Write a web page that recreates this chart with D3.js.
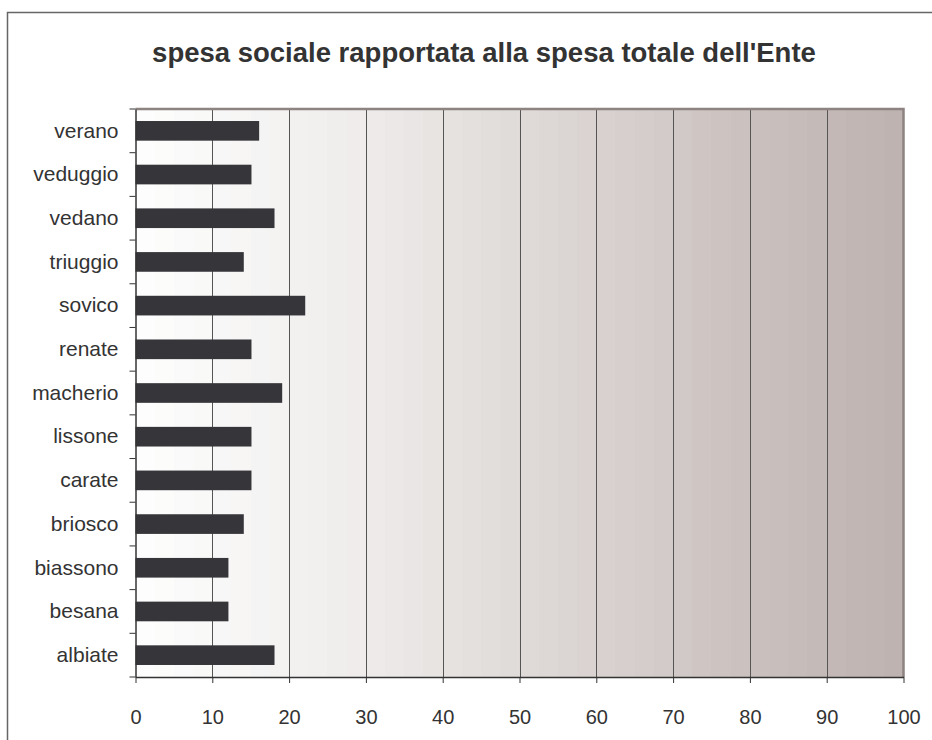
<!DOCTYPE html>
<html><head><meta charset="utf-8">
<script src="https://cdn.jsdelivr.net/npm/d3@7"></script>
<style>html,body{margin:0;padding:0;background:#fff;overflow:hidden}</style>
</head><body>
<script>
const title = "spesa sociale rapportata alla spesa totale dell'Ente";
const categories = ["verano","veduggio","vedano","triuggio","sovico","renate","macherio","lissone","carate","briosco","biassono","besana","albiate"];
const values = [16.1,15.1,18.1,14.1,22.1,15.1,19.1,15.1,15.1,14.1,12.1,12.1,18.1];
const xTicks = [0,10,20,30,40,50,60,70,80,90,100];

const W = 932, H = 740;
const m = {left:135.5, right:903.5, top:109, bottom:677};
const svg = d3.select("body").append("svg").attr("width",W).attr("height",H);
const font = "Liberation Sans, Arial, sans-serif";

// outer border
svg.append("rect").attr("x",7.5).attr("y",12.5).attr("width",960).attr("height",800)
  .attr("fill","#fff").attr("stroke","#666").attr("stroke-width",1.5);

svg.append("text").attr("x",484).attr("y",62).attr("text-anchor","middle")
  .attr("font-family",font).attr("font-weight","bold")
  .attr("font-size",27.5).attr("fill","#333").text(title);

const x = d3.scaleLinear().domain([0,100]).range([m.left,m.right]);
const y = d3.scaleBand().domain(categories).range([m.top,m.bottom]).paddingInner(0.55).paddingOuter(0.275);

// banded gradient
const defs = svg.append("defs");
const grad = defs.append("linearGradient").attr("id","bg").attr("x1","0").attr("x2","1").attr("y1","0").attr("y2","0");
const cInt = d3.interpolateRgbBasis(["#fdfdfd","#f6f5f4","#efedec","#e4e0de","#dbd5d3","#d2c9c7","#c6bcba","#bfb3b1"]);
const nb = 40;
for (let i=0;i<nb;i++){
  const c = cInt(i/(nb-1));
  grad.append("stop").attr("offset",(i/nb)).attr("stop-color",c);
  grad.append("stop").attr("offset",((i+1)/nb)).attr("stop-color",c);
}
svg.append("rect").attr("x",m.left).attr("y",m.top).attr("width",m.right-m.left).attr("height",m.bottom-m.top)
  .attr("fill","url(#bg)");

// gridlines
svg.append("g").selectAll("line").data(xTicks.filter(d=>d>0&&d<100)).join("line")
  .attr("x1",d=>Math.round(x(d))+0.5).attr("x2",d=>Math.round(x(d))+0.5)
  .attr("y1",m.top).attr("y2",m.bottom).attr("stroke","#555").attr("stroke-width",1);

// top & right border
svg.append("path").attr("d",`M${m.left},${m.top} H${m.right} V${m.bottom}`)
  .attr("fill","none").attr("stroke","#8d8381").attr("stroke-width",2.5);

// bars
svg.append("g").selectAll("rect").data(categories).join("rect")
  .attr("x",x(0)).attr("y",d=>y(d)).attr("height",y.bandwidth())
  .attr("width",(d,i)=>x(values[i])-x(0)).attr("fill","#363539");

// axes
const xAxis = svg.append("g").attr("transform",`translate(0,${m.bottom})`)
  .call(d3.axisBottom(x).tickValues(xTicks).tickSize(6).tickPadding(27).tickSizeOuter(0));
xAxis.select(".domain").attr("stroke","#333").attr("stroke-width",1.5);
xAxis.selectAll(".tick line").attr("stroke","#333");
xAxis.selectAll("text").attr("font-family",font).attr("font-size",20).attr("fill","#333");

const yAxis = svg.append("g").attr("transform",`translate(${m.left},0)`)
  .call(d3.axisLeft(y).tickSize(0).tickPadding(17));
yAxis.select(".domain").attr("stroke","#333").attr("stroke-width",1.5);
yAxis.selectAll("text").attr("font-family",font).attr("font-size",21).attr("fill","#333");
// category boundary ticks
const bounds = d3.range(categories.length+1).map(i=>m.top+i*(m.bottom-m.top)/categories.length);
svg.append("g").selectAll("line").data(bounds).join("line")
  .attr("x1",m.left-6).attr("x2",m.left).attr("y1",d=>d).attr("y2",d=>d)
  .attr("stroke","#333").attr("stroke-width",1);
</script>
</body></html>
